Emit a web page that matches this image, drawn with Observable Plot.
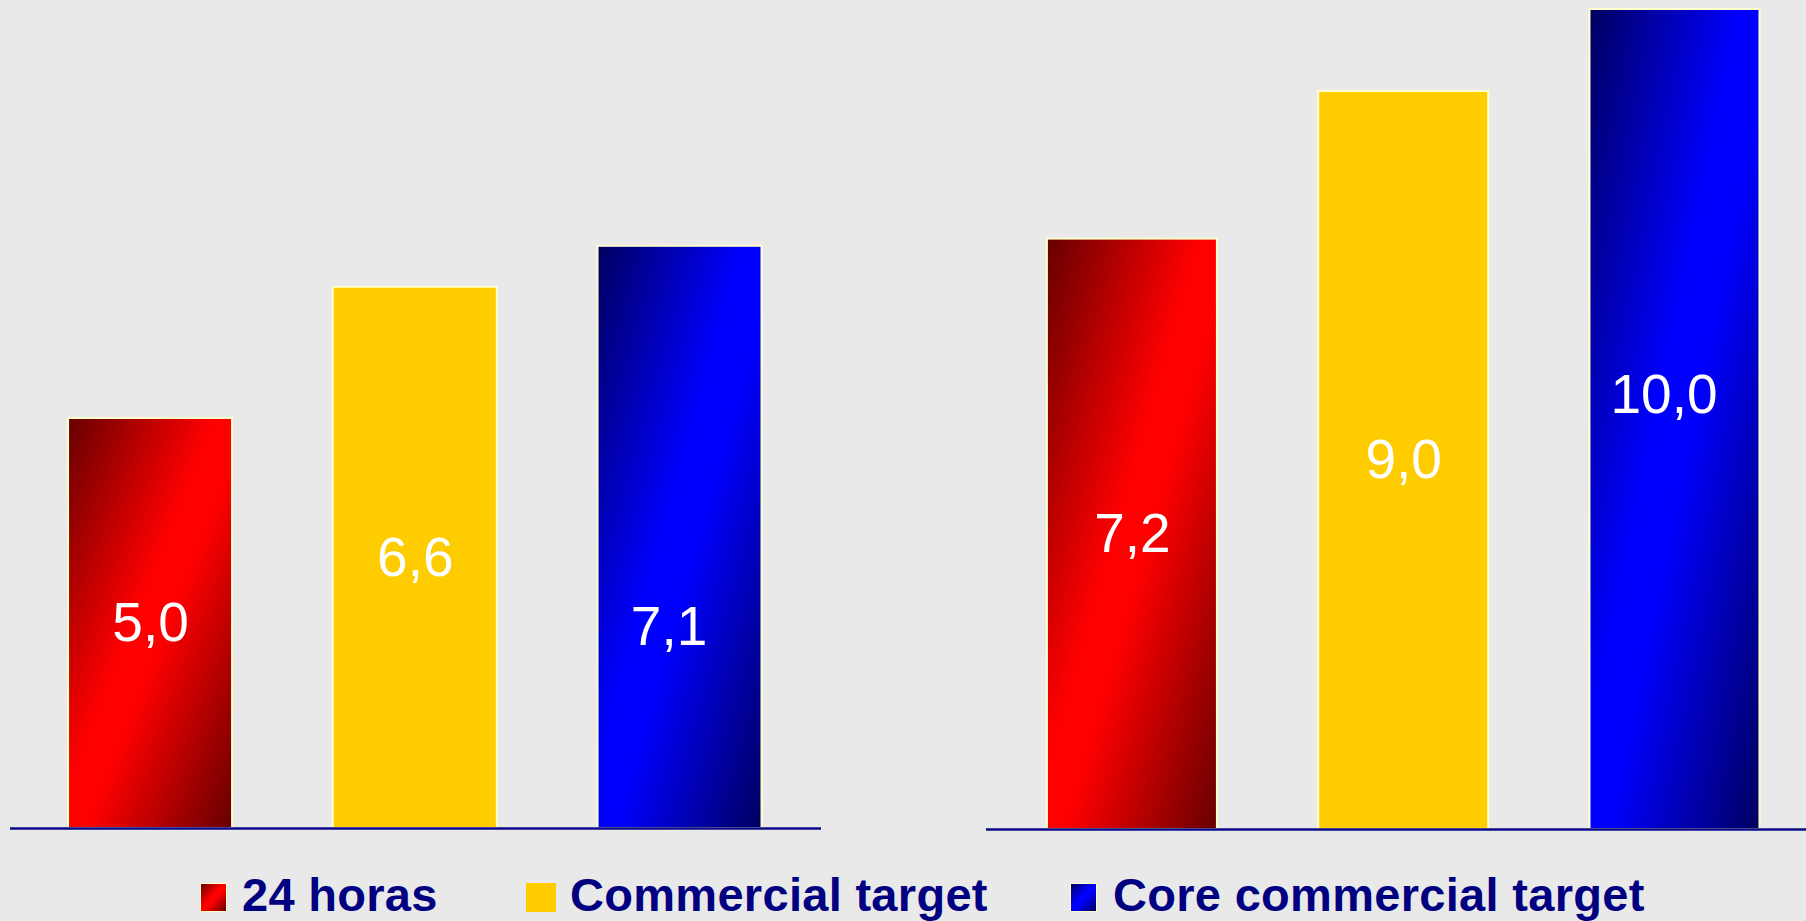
<!DOCTYPE html>
<html><head><meta charset="utf-8">
<script src="https://cdn.jsdelivr.net/npm/d3@7"></script>
<script src="https://cdn.jsdelivr.net/npm/@observablehq/plot@0.6"></script>
<style>
html,body{margin:0;padding:0;background:#e9e9e9;}
#chart{position:relative;width:1806px;height:921px;overflow:hidden;background:#e9e9e9;font-family:"Liberation Sans",Arial,sans-serif;}
#chart svg{position:absolute;top:0;}
.sw{position:absolute;box-sizing:border-box;border:1.5px solid #ffffcc;}
.lt{position:absolute;font-size:47px;line-height:47px;font-weight:bold;color:#000080;white-space:nowrap;letter-spacing:0.3px;}
</style></head><body><div id="chart"></div>
<script>
// ---- data ----
const categories = ["24 horas", "Commercial target", "Core commercial target"];
const values1 = [5.0, 6.6, 7.1];
const values2 = [7.2, 9.0, 10.0];
const valueLabels1 = ["5,0", "6,6", "7,1"];
const valueLabels2 = ["7,2", "9,0", "10,0"];
const labelAt1 = [2.5, 3.3, 2.45];
const labelAt2 = [3.6, 4.5, 5.3];
const colors = ["url(#gradRed)", "#ffcc00", "url(#gradBlue)"];

function rowsFor(vals, labs, at) {
  return categories.map((c, i) => ({category: c, value: vals[i], label: labs[i], labelAt: at[i]}));
}

function panel(rows, opts) {
  const textOpts = {x: "category", y: "labelAt", text: "label", fill: "white", fontSize: 55};
  return Plot.plot({
    width: 903,
    height: 850,
    marginTop: opts.top,
    marginBottom: opts.bottom,
    marginLeft: opts.left,
    marginRight: opts.right,
    style: {background: "transparent", fontFamily: "'Liberation Sans', Arial, sans-serif"},
    x: {domain: categories, paddingInner: opts.pi, paddingOuter: opts.po, align: opts.align, round: false, axis: null},
    y: {domain: [0, 10], axis: null},
    color: {domain: categories, range: colors},
    marks: [
      Plot.barY(rows, {x: "category", y: "value", fill: "category", stroke: "#ffffcc", strokeWidth: 2}),
      Plot.ruleY([0], {stroke: "#0a0a88", strokeWidth: 2.5}),
      Plot.text(rows.filter(d => d.category !== categories[2]), textOpts),
      Plot.text(rows.filter(d => d.category === categories[2]), {...textOpts, dx: -11})
    ]
  });
}

const left = panel(rowsFor(values1, valueLabels1, labelAt1), {top: 8, bottom: 22, left: 10, right: 82, pi: 0.3805, po: 0.222, align: 0.494});
const right = panel(rowsFor(values2, valueLabels2, labelAt2), {top: 9, bottom: 21, left: 83, right: 0, pi: 0.3733, po: 0.198, align: 0.567});

const defs = d3.select(left).insert("defs", ":first-child");
function grad(id, dark, bright) {
  const g = defs.append("linearGradient").attr("id", id).attr("x1", 0).attr("y1", 0).attr("x2", 1).attr("y2", 1);
  [[0, dark], [0.45, bright], [0.55, bright], [1, dark]].forEach(([o, c]) => g.append("stop").attr("offset", o).attr("stop-color", c));
}
grad("gradRed", "#660000", "#ff0000");
grad("gradBlue", "#000060", "#0000ff");

const root = document.getElementById("chart");
left.style.left = "0px";
right.style.left = "903px";
root.appendChild(left);
root.appendChild(right);

// ---- legend ----
const legend = [
  {label: categories[0], sw: 200, w: 27, tx: 242, bg: "linear-gradient(to bottom right,#660000 0%,#ff0000 45%,#ff0000 55%,#660000 100%)", border: true},
  {label: categories[1], sw: 526, w: 30, tx: 570, bg: "#ffcc00", border: false},
  {label: categories[2], sw: 1070, w: 27, tx: 1113, bg: "linear-gradient(to bottom right,#000060 0%,#0000ff 45%,#0000ff 55%,#000060 100%)", border: true}
];
legend.forEach(l => {
  const s = document.createElement("div");
  s.className = "sw";
  s.style.left = l.sw + "px"; s.style.top = "883px"; s.style.width = l.w + "px"; s.style.height = "29px";
  s.style.background = l.bg;
  if (!l.border) s.style.border = "none";
  root.appendChild(s);
  const t = document.createElement("div");
  t.className = "lt";
  t.style.left = l.tx + "px"; t.style.top = "871px";
  t.textContent = l.label;
  root.appendChild(t);
});
</script>
</body></html>
